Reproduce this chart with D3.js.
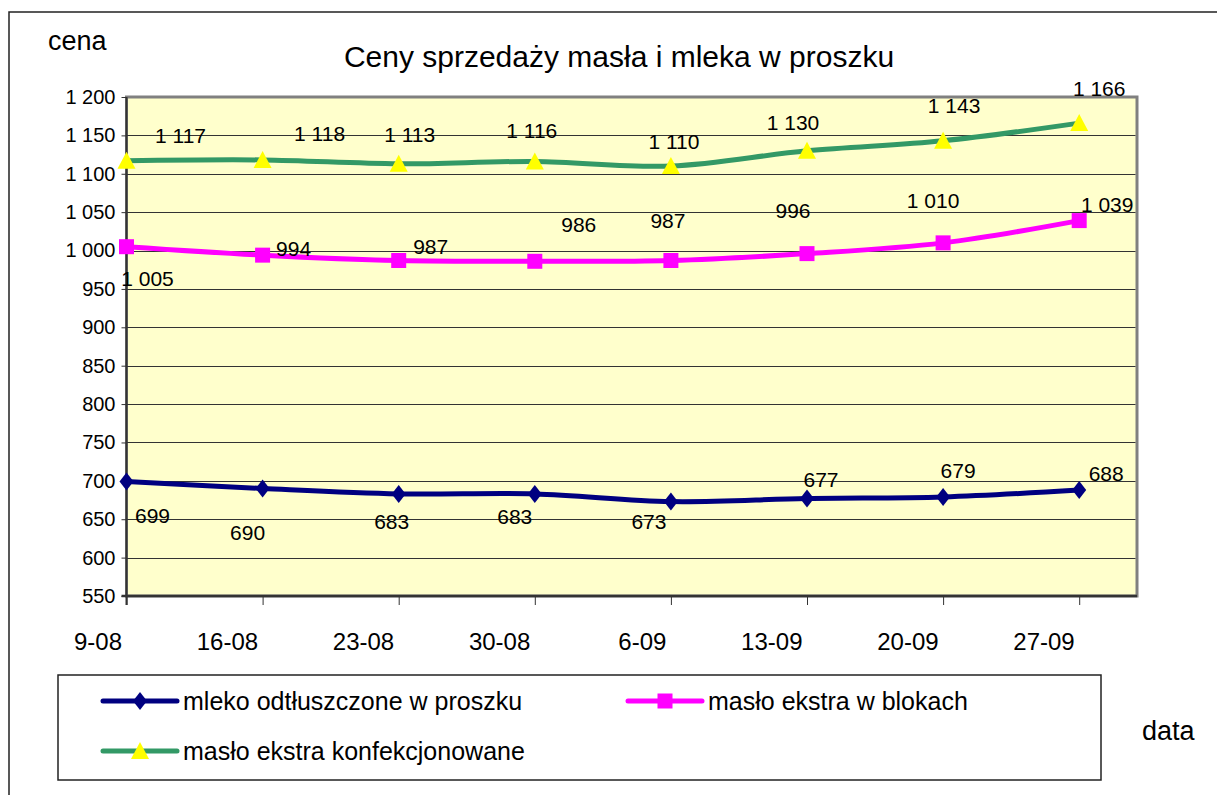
<!DOCTYPE html>
<html>
<head>
<meta charset="utf-8">
<script src="https://cdn.jsdelivr.net/npm/d3@7/dist/d3.min.js"></script>
<style>
    body { margin: 0; background: #fff; }
    svg { display: block; font-family: "Liberation Sans", Arial, sans-serif; }
</style>
</head>
<body>
<div id="chart"></div>
<script>
// Data
const dates = ['9-08', '16-08', '23-08', '30-08', '6-09', '13-09', '20-09', '27-09'];
const mleko = [699, 690, 683, 683, 673, 677, 679, 688];
const masloBloki = [1005, 994, 987, 986, 987, 996, 1010, 1039];
const masloKonf = [1117, 1118, 1113, 1116, 1110, 1130, 1143, 1166];
const yTicks = [550, 600, 650, 700, 750, 800, 850, 900, 950, 1000, 1050, 1100, 1150, 1200];
const seriesNames = ['mleko odtłuszczone w proszku', 'masło ekstra w blokach', 'masło ekstra konfekcjonowane'];

// label offsets (dx, dy) from each point, as the labels were moved by hand in the original
const mlekoLabelOff = [[26, 34], [-15, 44], [-7, 28], [-20, 23], [-22, 20], [14, -19], [15, -26], [27, -16]];
const blokiLabelOff = [[21, 32], [31, -6], [32, -14], [44, -37], [-3, -40], [-14, -43], [-10, -42], [28, -16]];
const konfLabelOff = [[54, -25], [57, -26], [11, -29], [-3, -31], [3, -24], [-14, -28], [11, -35], [20, -34]];

const width = 1217, height = 795;
const plot = {left: 126.5, top: 97, right: 1137, bottom: 596};

const svg = d3.select('#chart')
    .append('svg')
    .attr('width', width)
    .attr('height', height);

const fmt = d3.formatLocale({decimal: ',', thousands: ' ', grouping: [3], currency: ['', '']}).format(',d');

const x = d3.scalePoint()
    .domain(dates)
    .range([plot.left, 1079.2]);
const y = d3.scaleLinear()
    .domain([550, 1200])
    .range([plot.bottom, plot.top]);

// outer chart border (runs off the page on the right and bottom)
svg.append('rect')
    .attr('x', 9)
    .attr('y', 12)
    .attr('width', 1240)
    .attr('height', 820)
    .attr('fill', 'none')
    .attr('stroke', '#222')
    .attr('stroke-width', 1.5);

// plot area
svg.append('rect')
    .attr('x', plot.left)
    .attr('y', plot.top)
    .attr('width', plot.right - plot.left)
    .attr('height', plot.bottom - plot.top)
    .attr('fill', '#FFFFCC')
    .attr('stroke', '#808080')
    .attr('stroke-width', 3);

// gridlines
svg.append('g')
    .selectAll('line')
    .data(yTicks.filter(d => d > 550 && d < 1200))
    .enter()
    .append('line')
    .attr('x1', plot.left)
    .attr('x2', plot.right - 1.5)
    .attr('y1', d => Math.round(y(d)) + 0.5)
    .attr('y2', d => Math.round(y(d)) + 0.5)
    .attr('stroke', '#333')
    .attr('stroke-width', 1);

// Y axis
const yAxis = svg.append('g')
    .attr('transform', `translate(${plot.left},0)`)
    .call(d3.axisLeft(y).tickValues(yTicks).tickSize(5).tickFormat(fmt));
yAxis.select('.domain').remove();
yAxis.selectAll('line').attr('stroke', '#333');
yAxis.selectAll('text')
    .attr('x', -11)
    .attr('font-size', '20px')
    .attr('font-family', '"Liberation Sans", Arial, sans-serif')
    .attr('fill', '#000');

// X axis
const xAxis = svg.append('g')
    .attr('transform', `translate(0,${plot.bottom})`)
    .call(d3.axisBottom(x).tickSize(9));
xAxis.select('.domain').remove();
xAxis.selectAll('line').attr('stroke', '#333');
xAxis.selectAll('text')
    .attr('x', -5)
    .attr('y', 54)
    .attr('dy', 0)
    .attr('text-anchor', 'end')
    .attr('font-size', '24px')
    .attr('font-family', '"Liberation Sans", Arial, sans-serif')
    .attr('fill', '#000');

// axis lines
svg.append('line')
    .attr('x1', plot.left).attr('x2', plot.left)
    .attr('y1', plot.top).attr('y2', plot.bottom + 9)
    .attr('stroke', '#333').attr('stroke-width', 2);
svg.append('line')
    .attr('x1', plot.left - 5).attr('x2', plot.right)
    .attr('y1', plot.bottom).attr('y2', plot.bottom)
    .attr('stroke', '#333').attr('stroke-width', 2.5);

const line = d3.line()
    .x((d, i) => x(dates[i]))
    .y(d => y(d))
    .curve(d3.curveCatmullRom.alpha(0.5));

const series = [
    {values: mleko, color: '#000080', marker: 'diamond', fill: '#000080', off: mlekoLabelOff},
    {values: masloBloki, color: '#FF00FF', marker: 'square', fill: '#FF00FF', off: blokiLabelOff},
    {values: masloKonf, color: '#339966', marker: 'triangle', fill: '#FFFF00', off: konfLabelOff}
];

function markerPath(type) {
    if (type === 'diamond') return 'M0,-9L7,0L0,9L-7,0Z';
    if (type === 'square') return 'M-7.5,-7.5H7.5V7.5H-7.5Z';
    return 'M0,-9L9,8H-9Z';
}

series.forEach(s => {
    svg.append('path')
        .datum(s.values)
        .attr('fill', 'none')
        .attr('stroke', s.color)
        .attr('stroke-width', 5)
        .attr('stroke-linejoin', 'round')
        .attr('d', line);
    svg.append('g')
        .selectAll('path')
        .data(s.values)
        .enter()
        .append('path')
        .attr('transform', (d, i) => `translate(${x(dates[i])},${y(d)})`)
        .attr('d', markerPath(s.marker))
        .attr('fill', s.fill);
});

// data labels
series.forEach(s => {
    svg.append('g')
        .selectAll('text')
        .data(s.values)
        .enter()
        .append('text')
        .attr('x', (d, i) => x(dates[i]) + s.off[i][0])
        .attr('y', (d, i) => y(d) + s.off[i][1])
        .attr('dy', '0.35em')
        .attr('text-anchor', 'middle')
        .attr('font-size', '21px')
        .text(d => fmt(d));
});

// titles
svg.append('text')
    .attr('x', 619)
    .attr('y', 67)
    .attr('text-anchor', 'middle')
    .attr('font-size', '30px')
    .text('Ceny sprzedaży masła i mleka w proszku');
svg.append('text')
    .attr('x', 48)
    .attr('y', 50)
    .attr('font-size', '27px')
    .text('cena');
svg.append('text')
    .attr('x', 1142)
    .attr('y', 740)
    .attr('font-size', '27px')
    .text('data');

// legend
svg.append('rect')
    .attr('x', 58)
    .attr('y', 675)
    .attr('width', 1101 - 58)
    .attr('height', 780 - 675)
    .attr('fill', '#fff')
    .attr('stroke', '#222')
    .attr('stroke-width', 1.5);

const legendPos = [[103, 701], [628, 701], [103, 751]];
const legend = svg.append('g')
    .selectAll('g')
    .data(series)
    .enter()
    .append('g')
    .attr('transform', (d, i) => `translate(${legendPos[i][0]},${legendPos[i][1]})`);
legend.append('line')
    .attr('x1', 0).attr('x2', 74)
    .attr('y1', 0).attr('y2', 0)
    .attr('stroke', d => d.color)
    .attr('stroke-width', 5)
    .attr('stroke-linecap', 'round');
legend.append('path')
    .attr('transform', 'translate(37,0)')
    .attr('d', d => markerPath(d.marker))
    .attr('fill', d => d.fill);
legend.append('text')
    .attr('x', 80)
    .attr('dy', '0.35em')
    .attr('font-size', '25px')
    .text((d, i) => seriesNames[i]);
</script>
</body>
</html>
